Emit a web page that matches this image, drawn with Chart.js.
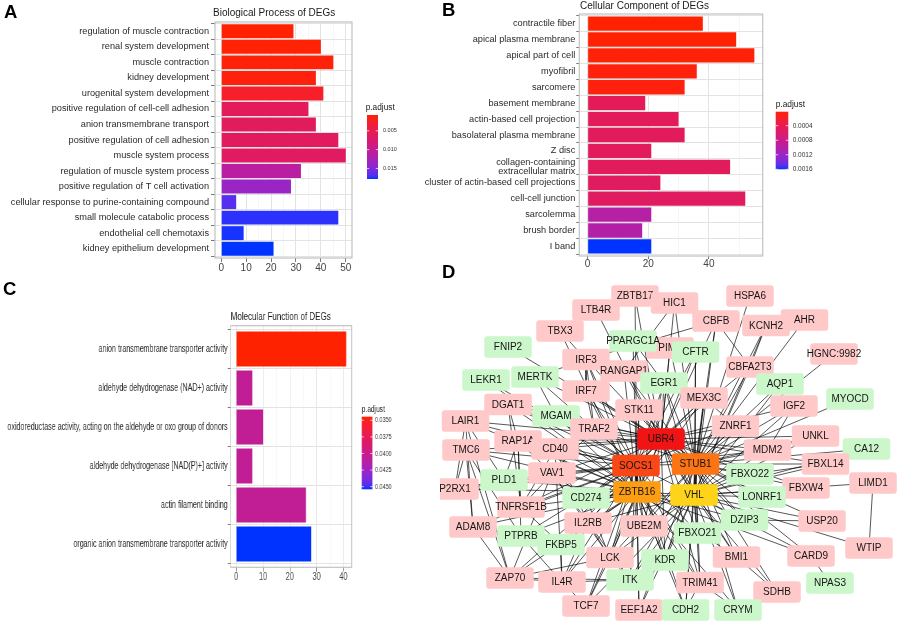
<!DOCTYPE html>
<html><head><meta charset="utf-8">
<script src="https://cdn.jsdelivr.net/npm/chart.js@4.4.0/dist/chart.umd.min.js"></script>
<style>
html,body{margin:0;padding:0;background:#fff;}
body{width:899px;height:624px;position:relative;overflow:hidden;font-family:"Liberation Sans",Arial,sans-serif;}
.wrap{position:absolute;}
.lbl{position:absolute;font-weight:bold;font-size:18.5px;line-height:18px;color:#000;font-family:"Liberation Sans",Arial,sans-serif;}
</style></head><body>
<div class="wrap" style="left:0;top:0;width:440px;height:283px"><canvas id="ca" width="440" height="283"></canvas></div>
<div class="wrap" style="left:400px;top:0;width:499px;height:275px"><canvas id="cb" width="499" height="275"></canvas></div>
<div class="wrap" style="left:0;top:283px;width:620px;height:341px;transform:scaleX(0.69);transform-origin:0 0"><canvas id="cc" width="620" height="341"></canvas></div>
<div class="wrap" style="left:440px;top:283px;width:459px;height:341px"><canvas id="cd" width="459" height="341"></canvas></div>
<div class="lbl" style="left:4px;top:2.6px">A</div>
<div class="lbl" style="left:442px;top:1px">B</div>
<div class="lbl" style="left:3px;top:280px">C</div>
<div class="lbl" style="left:442px;top:262.6px">D</div>
<script>
// ================= DATA =================
const bpTerms = ["regulation of muscle contraction","renal system development","muscle contraction","kidney development","urogenital system development","positive regulation of cell-cell adhesion","anion transmembrane transport","positive regulation of cell adhesion","muscle system process","regulation of muscle system process","positive regulation of T cell activation","cellular response to purine-containing compound","small molecule catabolic process","endothelial cell chemotaxis","kidney epithelium development"];
const bpCounts = [29,40,45,38,41,35,38,47,50,32,28,6,47,9,21];
const bpPadj = [0.0008,0.0009,0.0010,0.0011,0.0024,0.0058,0.0060,0.0061,0.0063,0.0110,0.0136,0.0166,0.0175,0.0177,0.0178];
const bpTicks = [0,10,20,30,40,50];
const bpMinorTicks = [5,15,25,35,45];
const bpLegendBreaks = [0.005,0.010,0.015];
const bpLegendLabels = ["0.005","0.010","0.015"];

const ccTerms = ["contractile fiber","apical plasma membrane","apical part of cell","myofibril","sarcomere","basement membrane","actin-based cell projection","basolateral plasma membrane","Z disc","collagen-containing\nextracellular matrix","cluster of actin-based cell projections","cell-cell junction","sarcolemma","brush border","I band"];
const ccCounts = [38,49,55,36,32,19,30,32,21,47,24,52,21,18,21];
const ccPadj = [0.000014,0.00002,0.00003,0.00004,0.00005,0.00047,0.00048,0.00049,0.00050,0.00050,0.00051,0.00052,0.00100,0.00102,0.0016];
const ccTicks = [0,20,40];
const ccMinorTicks = [10,30,50];
const ccLegendBreaks = [0.0004,0.0008,0.0012,0.0016];
const ccLegendLabels = ["0.0004","0.0008","0.0012","0.0016"];

const mfTerms = ["anion transmembrane transporter activity","aldehyde dehydrogenase (NAD+) activity","oxidoreductase activity, acting on the aldehyde or oxo group of donors","aldehyde dehydrogenase [NAD(P)+] activity","actin filament binding","organic anion transmembrane transporter activity"];
const mfCounts = [41,6,10,6,26,28];
const mfPadj = [0.03446,0.0405,0.0405,0.0405,0.0405,0.0454];
const mfTicks = [0,10,20,30,40];
const mfMinorTicks = [5,15,25,35];
const mfLegendBreaks = [0.0350,0.0375,0.0400,0.0425,0.0450];
const mfLegendLabels = ["0.0350","0.0375","0.0400","0.0425","0.0450"];

// Network (layout coordinates)
const nodeNames = ["LTB4R","ZBTB17","TBX3","PIM1","PPARGC1A","FNIP2","IRF3","RANGAP1","LEKR1","MERTK","IRF7","EGR1","DGAT1","STK11","LAIR1","MGAM","TRAF2","RAP1A","TMC6","CD40","VAV1","PLD1","P2RX1","CD274","TNFRSF1B","ADAM8","IL2RB","UBE2M","PTPRB","FKBP5","LCK","KDR","ZAP70","IL4R","ITK","TCF7","EEF1A2","HIC1","HSPA6","CBFB","AHR","KCNH2","CFTR","HGNC:9982","CBFA2T3","AQP1","MEX3C","MYOCD","IGF2","ZNRF1","UNKL","MDM2","CA12","FBXO22","FBXL14","FBXW4","LIMD1","LONRF1","DZIP3","USP20","FBXO21","WTIP","BMI1","CARD9","TRIM41","NPAS3","SDHB","CDH2","CRYM","UBR4","SOCS1","STUB1","ZBTB16","VHL"];
const nodeX = [156,195,120,230,193,68,146,184,46,95,146,224,68,199,25.5,116,154,78,26,115,112,64,15,146,81,33,148,204,81,121,170,225,70,122,190,146,199,234.5,310,276,364.5,326,255.5,394,310,340,264,410,354,295.5,375.5,327.5,426.5,310,385.5,366,433,322,304.5,382,257.5,429,296.5,371,260,390,337,245.5,298,221,196,255.5,197,254];
const nodeY = [27,13,48,65,58,64,76.5,88,97,94,108,100,121.5,127,138,133,146,158,167,166,190,197,206,215,224,244,240,243,253,261.5,274.5,277,295,299,297,323,327,20,13,38,37,42.5,69,71,84,101,115,116,123,143,153,167,166,191,181,205,200,214,237,238,250,265,274,273,299.5,300,309,327,327,156,182.5,181,209,212];
const nodeGroup = ["U","U","U","U","D","D","U","U","D","D","U","D","U","U","U","D","U","U","U","U","U","D","U","D","U","U","U","U","D","D","U","D","U","U","D","U","U","U","U","U","U","U","D","U","U","D","U","D","U","U","U","U","D","D","U","U","U","D","D","U","D","U","U","U","U","D","U","D","D","H1","H2","H3","H4","H5"];

const hubNames = ["UBR4","SOCS1","STUB1","ZBTB16","VHL"];
const ubr4Links = ["ZBTB17","LTB4R","FNIP2","PPARGC1A","IRF3","RANGAP1","PIM1","HIC1","CBFB","CFTR","EGR1","IRF7","STK11","TRAF2","MGAM","MERTK","DGAT1","RAP1A","CD40","LAIR1","TMC6","VAV1","TNFRSF1B","CD274","IL2RB","UBE2M","LCK","KDR","MEX3C","CBFA2T3","ZNRF1","IGF2","MDM2","UNKL","FBXO22","LONRF1","FBXL14","FBXW4","DZIP3","FBXO21","BMI1","TRIM41"];
const socs1Links = ["LEKR1","MERTK","IRF3","IRF7","TRAF2","MGAM","DGAT1","STK11","EGR1","RAP1A","CD40","LAIR1","TMC6","VAV1","PLD1","P2RX1","ADAM8","TNFRSF1B","PTPRB","FKBP5","CD274","IL2RB","IL4R","ZAP70","LCK","ITK","TCF7","KDR","UBE2M","EEF1A2","CDH2","TRIM41","FBXO21","MEX3C","ZNRF1","MDM2","CFTR"];
const stub1Links = ["HSPA6","HIC1","CBFB","KCNH2","AHR","HGNC:9982","CFTR","PIM1","RANGAP1","CBFA2T3","AQP1","MYOCD","EGR1","MEX3C","STK11","IRF7","TRAF2","ZNRF1","IGF2","UNKL","MDM2","CA12","FBXO22","FBXL14","FBXW4","LONRF1","USP20","DZIP3","FBXO21","CARD9","BMI1","UBE2M","LCK","ITK","KDR","TRIM41","SDHB","CRYM","CDH2","EEF1A2"];
const zbtb16Links = ["ZBTB17","TBX3","PPARGC1A","LEKR1","IRF3","RANGAP1","IRF7","MGAM","DGAT1","STK11","EGR1","RAP1A","CD40","LAIR1","TMC6","VAV1","PLD1","P2RX1","ADAM8","TNFRSF1B","PTPRB","FKBP5","CD274","IL2RB","IL4R","ZAP70","LCK","ITK","TCF7","EEF1A2","KDR","UBE2M","TRIM41","CDH2","CRYM","BMI1","FBXO21","DZIP3","CARD9","MEX3C"];
const vhlLinks = ["CBFB","KCNH2","CFTR","CBFA2T3","AQP1","EGR1","MEX3C","STK11","ZNRF1","IGF2","UNKL","MDM2","CA12","FBXL14","FBXW4","LIMD1","FBXO22","LONRF1","USP20","WTIP","DZIP3","FBXO21","CARD9","BMI1","SDHB","TRIM41","CRYM","CDH2","KDR","EEF1A2","ITK","LCK","UBE2M","TCF7","IL2RB","CD274"];
const otherLinks = [["UBR4","SOCS1"],["UBR4","STUB1"],["UBR4","ZBTB16"],["UBR4","VHL"],["SOCS1","STUB1"],["SOCS1","ZBTB16"],["SOCS1","VHL"],["STUB1","ZBTB16"],["STUB1","VHL"],["ZBTB16","VHL"],
["LIMD1","WTIP"],["NPAS3","CARD9"],["CBFB","CBFA2T3"],["CBFB","IRF3"],["HIC1","RANGAP1"],["KCNH2","CBFA2T3"],["EGR1","PPARGC1A"],["MERTK","MGAM"],["MERTK","IRF3"],["IRF3","IRF7"],["IRF3","TRAF2"],["IRF7","TRAF2"],["TBX3","IRF3"],
["LAIR1","P2RX1"],["LAIR1","ADAM8"],["LAIR1","ZAP70"],["LAIR1","PLD1"],["TMC6","P2RX1"],["TMC6","ADAM8"],["TMC6","ZAP70"],["TMC6","PTPRB"],["DGAT1","RAP1A"],["DGAT1","TNFRSF1B"],["DGAT1","LAIR1"],
["RAP1A","VAV1"],["RAP1A","PLD1"],["RAP1A","TNFRSF1B"],["RAP1A","PTPRB"],["CD40","TRAF2"],["CD40","TNFRSF1B"],["CD40","IL4R"],["CD40","IL2RB"],["TRAF2","TNFRSF1B"],
["VAV1","LCK"],["VAV1","ZAP70"],["VAV1","ITK"],["VAV1","CD274"],["LCK","ZAP70"],["LCK","ITK"],["LCK","IL2RB"],["LCK","CD274"],["LCK","TCF7"],["ZAP70","ITK"],["ZAP70","IL4R"],["IL2RB","IL4R"],["IL4R","TCF7"],["IL4R","ITK"],
["P2RX1","PLD1"],["ADAM8","PTPRB"],["ADAM8","ZAP70"],["PTPRB","IL4R"],["FKBP5","IL4R"],["FKBP5","TNFRSF1B"],["MEX3C","ZNRF1"],["MDM2","UNKL"],["FBXO22","FBXL14"],["LONRF1","FBXW4"],["DZIP3","USP20"],["BMI1","SDHB"],["TRIM41","CRYM"],["TRIM41","CDH2"],["MDM2","IGF2"]];

// ================= STYLE / HELPERS =================
const FAM = '"Liberation Sans", Arial, Helvetica, sans-serif';
Chart.defaults.font.family = FAM;
Chart.defaults.animation = false;

function hexRgb(h){return [parseInt(h.slice(1,3),16),parseInt(h.slice(3,5),16),parseInt(h.slice(5,7),16)];}
function toLin(c){c/=255;return c<=0.04045?c/12.92:Math.pow((c+0.055)/1.055,2.4);}
function fromLin(c){c=c<=0.0031308?12.92*c:1.055*Math.pow(c,1/2.4)-0.055;return Math.round(255*Math.min(1,Math.max(0,c)));}
const WX=0.95047, WZ=1.08883;
function fl(t){return t>0.008856?Math.cbrt(t):(7.787*t+16/116);}
function finv(t){return t>0.206893?t*t*t:(t-16/116)/7.787;}
function rgbToLab(rgb){const r=toLin(rgb[0]),g=toLin(rgb[1]),b=toLin(rgb[2]);
  const X=(0.4124*r+0.3576*g+0.1805*b)/WX, Y=(0.2126*r+0.7152*g+0.0722*b), Z=(0.0193*r+0.1192*g+0.9505*b)/WZ;
  const fx=fl(X),fy=fl(Y),fz=fl(Z);return [116*fy-16,500*(fx-fy),200*(fy-fz)];}
function labToRgb(lab){const fy=(lab[0]+16)/116,fx=fy+lab[1]/500,fz=fy-lab[2]/200;
  const X=finv(fx)*WX,Y=finv(fy),Z=finv(fz)*WZ;
  const r=3.2406*X-1.5372*Y-0.4986*Z,g=-0.9689*X+1.8758*Y+0.0415*Z,b=0.0557*X-0.2040*Y+1.0570*Z;
  return 'rgb('+fromLin(r)+','+fromLin(g)+','+fromLin(b)+')';}
const LOWLAB=rgbToLab(hexRgb('#FF2200')), HIGHLAB=rgbToLab(hexRgb('#0033FF'));
function rampColor(t){t=Math.min(1,Math.max(0,t));return labToRgb(LOWLAB.map((v,i)=>v+(HIGHLAB[i]-v)*t));}

const panelDecor = {
  id:'panelDecor',
  afterDatasetsDraw(chart, args, o){
    const ctx=chart.ctx, a=chart.chartArea;
    ctx.save();
    ctx.strokeStyle=o.borderColor; ctx.lineWidth=o.borderWidth;
    ctx.strokeRect(a.left, a.top, a.right-a.left, a.bottom-a.top);
    ctx.fillStyle='#1a1a1a'; ctx.textAlign='left'; ctx.textBaseline='alphabetic';
    ctx.font=o.titleSize+'px '+FAM;
    ctx.fillText(o.title, a.left+o.titleDx, o.titleY);
    const L=o.legend;
    ctx.font=L.titleSize+'px '+FAM;
    ctx.fillText('p.adjust', L.x+L.titleDx, L.titleY);
    const grad=ctx.createLinearGradient(0,L.y,0,L.y+L.h);
    for(let k=0;k<=24;k++) grad.addColorStop(k/24, rampColor(k/24));
    ctx.fillStyle=grad; ctx.fillRect(L.x,L.y,L.w,L.h);
    ctx.font=L.labelSize+'px '+FAM; ctx.textBaseline='middle';
    L.breaks.forEach((b,i)=>{
      const yy=L.y+(b-L.pmin)/(L.pmax-L.pmin)*L.h;
      ctx.strokeStyle='rgba(255,255,255,0.9)'; ctx.lineWidth=0.8;
      ctx.beginPath(); ctx.moveTo(L.x,yy); ctx.lineTo(L.x+L.w*0.2,yy);
      ctx.moveTo(L.x+L.w*0.8,yy); ctx.lineTo(L.x+L.w,yy); ctx.stroke();
      ctx.fillStyle='#333'; ctx.fillText(L.labels[i], L.x+L.w+L.gap, yy);
    });
    ctx.restore();
  }
};

function barPanel(id, title, terms, counts, padj, major, minor, breaks, breakLabels, g){
  const pmin=Math.min(...padj), pmax=Math.max(...padj), n=terms.length;
  const isMajor=v=>major.includes(v);
  return new Chart(document.getElementById(id), {
    type:'bar',
    data:{datasets:[{data:counts.map((v,i)=>({x:v,y:i+1})),
      backgroundColor:padj.map(p=>rampColor((p-pmin)/(pmax-pmin))),
      barPercentage:0.9, categoryPercentage:1, borderWidth:0}]},
    options:{
      indexAxis:'y', responsive:false, animation:false, events:[],
      layout:{padding:{top:g.top,right:g.right,left:0,bottom:0}},
      plugins:{legend:{display:false}, tooltip:{enabled:false},
        panelDecor:{title:title, titleSize:g.titleSize, titleDx:g.titleDx, titleY:g.titleY,
          borderColor:'#C2C2C2', borderWidth:1.2,
          legend:Object.assign({breaks:breaks, labels:breakLabels, pmin:pmin, pmax:pmax}, g.legend)}},
      scales:{
        x:{type:'linear', min:g.xmin, max:g.xmax, bounds:'data',
          afterBuildTicks:s=>{s.ticks=[...major,...minor].sort((p,q)=>p-q).map(v=>({value:v}));},
          afterFit:s=>{s.height=g.xh;},
          ticks:{autoSkip:false, maxRotation:0, padding:g.xpad, color:'#444', font:{size:g.xfs}, callback:v=>isMajor(v)?String(v):''},
          grid:{color:c=>isMajor(c.tick&&c.tick.value)?'#E3E3E3':'#F0F0F0', lineWidth:c=>isMajor(c.tick&&c.tick.value)?1:0.6,
            tickColor:c=>isMajor(c.tick&&c.tick.value)?'#555':'rgba(0,0,0,0)', tickLength:g.tl, tickWidth:0.8},
          border:{display:false}},
        y:{type:'linear', min:0.4, max:n+0.6, reverse:true, offset:false, bounds:'data',
          afterBuildTicks:s=>{s.ticks=terms.map((t,i)=>({value:i+1}));},
          afterFit:s=>{s.width=g.yw;},
          ticks:{autoSkip:false, padding:g.ypad, color:'#2a2a2a', font:{size:g.yfs, lineHeight:1.0},
            callback:v=>terms[Math.round(v)-1].split('\n')},
          grid:{color:'#E3E3E3', lineWidth:1, tickColor:'#555', tickLength:g.tl, tickWidth:0.8},
          border:{display:false}}
      }
    },
    plugins:[panelDecor]
  });
}

barPanel('ca','Biological Process of DEGs', bpTerms, bpCounts, bpPadj, bpTicks, bpMinorTicks, bpLegendBreaks, bpLegendLabels,
  {top:22, right:88, yw:215, xh:25, xmin:-2.5, xmax:52.5, tl:4, xpad:0, ypad:2, xfs:10, yfs:9.2,
   titleSize:10, titleDx:-2, titleY:16,
   legend:{x:367, y:115, w:11, h:64, titleDx:-1.3, titleY:110, titleSize:8.3, labelSize:5.5, gap:5}});

barPanel('cb','Cellular Component of DEGs', ccTerms, ccCounts, ccPadj, ccTicks, ccMinorTicks, ccLegendBreaks, ccLegendLabels,
  {top:14, right:136.3, yw:179.3, xh:19, xmin:-2.75, xmax:57.75, tl:3, xpad:-1, ypad:1, xfs:10, yfs:9.2,
   titleSize:10, titleDx:0.7, titleY:8.6,
   legend:{x:375.7, y:111.7, w:12.6, h:57.6, titleDx:0, titleY:106.7, titleSize:8.4, labelSize:6.5, gap:4.4}});

barPanel('cc','Molecular Function of DEGs', mfTerms, mfCounts, mfPadj, mfTicks, mfMinorTicks, mfLegendBreaks, mfLegendLabels,
  {top:42.7, right:110.3, yw:334.3, xh:56.7, xmin:-2.05, xmax:43.05, tl:4.3, xpad:-1, ypad:0, xfs:10.8, yfs:10.3,
   titleSize:11.6, titleDx:0, titleY:37,
   legend:{x:524.2, y:133.7, w:15.4, h:72.6, titleDx:0, titleY:128.7, titleSize:9.6, labelSize:7.9, gap:3.9}});

// ================= NETWORK =================
const nodeIndex={}; nodeNames.forEach((n,i)=>{nodeIndex[n]=i;});
const edges=[];
[ubr4Links,socs1Links,stub1Links,zbtb16Links,vhlLinks].forEach((list,k)=>list.forEach(t=>edges.push([hubNames[k],t])));
otherLinks.forEach(e=>edges.push(e));
const edgeData=[];
edges.forEach(e=>{const i=nodeIndex[e[0]], j=nodeIndex[e[1]];
  if(i===undefined||j===undefined) return;
  edgeData.push({x:nodeX[i],y:nodeY[i]},{x:nodeX[j],y:nodeY[j]},{x:null,y:null});});

const groupFill={U:'#FFC9C9', D:'#CBF7CB', H1:'#F21414', H2:'#FA4716', H3:'#FC7414', H4:'#FD9D12', H5:'#FFD31A'};
const netNodes={
  id:'netNodes',
  afterDatasetsDraw(chart,args,o){
    const ctx=chart.ctx, meta=chart.getDatasetMeta(1);
    ctx.save();
    ctx.font=o.fontSize+'px '+FAM; ctx.textAlign='center'; ctx.textBaseline='middle';
    meta.data.forEach((el,i)=>{
      const w=o.w,h=o.h,r=o.r,x=el.x-w/2,y=el.y-h/2;
      ctx.beginPath();
      ctx.moveTo(x+r,y); ctx.lineTo(x+w-r,y); ctx.arcTo(x+w,y,x+w,y+r,r);
      ctx.lineTo(x+w,y+h-r); ctx.arcTo(x+w,y+h,x+w-r,y+h,r);
      ctx.lineTo(x+r,y+h); ctx.arcTo(x,y+h,x,y+h-r,r);
      ctx.lineTo(x,y+r); ctx.arcTo(x,y,x+r,y,r); ctx.closePath();
      ctx.fillStyle=groupFill[nodeGroup[i]]; ctx.fill();
      ctx.fillStyle='#151515'; ctx.fillText(nodeNames[i], el.x, el.y+0.5);
    });
    ctx.restore();
  }
};
new Chart(document.getElementById('cd'),{
  type:'scatter',
  data:{datasets:[
    {data:edgeData, showLine:true, spanGaps:false, borderColor:'rgba(0,0,0,0.88)', borderWidth:0.75, pointRadius:0, tension:0, fill:false},
    {data:nodeNames.map((n,i)=>({x:nodeX[i],y:nodeY[i]})), pointRadius:0, showLine:false}
  ]},
  options:{responsive:false, animation:false, events:[], layout:{padding:0},
    plugins:{legend:{display:false}, tooltip:{enabled:false}, netNodes:{w:47.5,h:21.5,r:3,fontSize:10}},
    scales:{x:{type:'linear',min:0,max:459,display:false,bounds:'data'},
            y:{type:'linear',min:0,max:341,reverse:true,display:false,bounds:'data'}}},
  plugins:[netNodes]
});
</script>
</body></html>
